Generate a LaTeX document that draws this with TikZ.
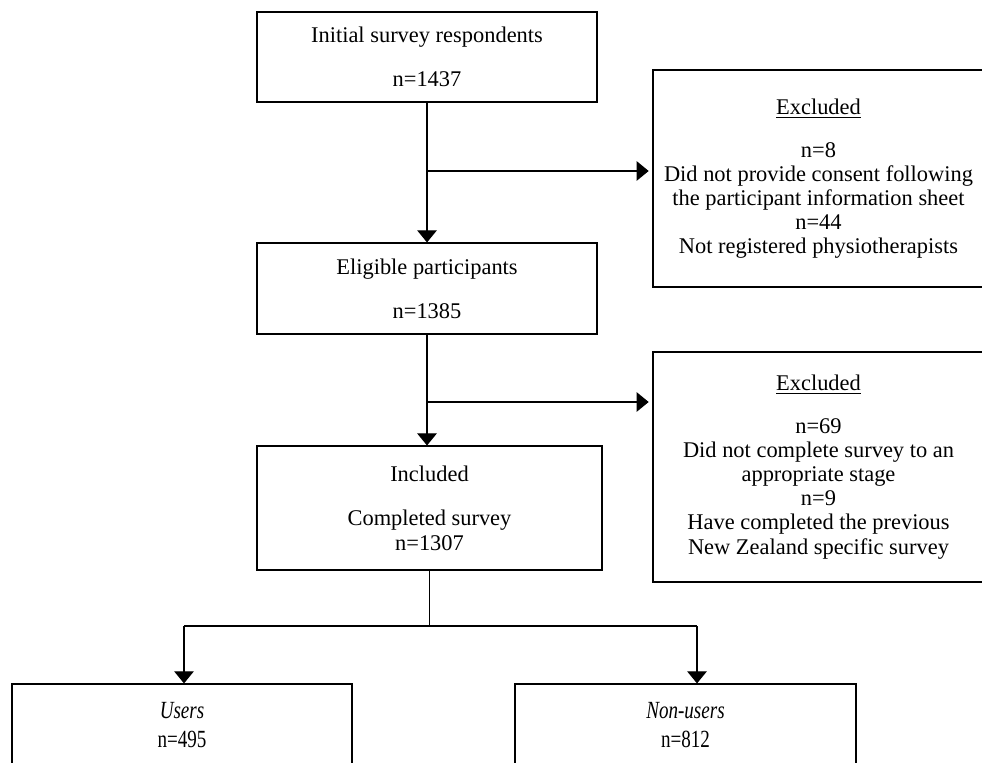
\documentclass[tikz,border=0pt]{standalone}
\usepackage{fontspec}
\setmainfont{Liberation Serif}
\usetikzlibrary{arrows.meta}
\tikzset{flowbox/.style={draw, line width=0.6pt, align=center, inner sep=0pt, font=\fontsize{12}{12.9}\selectfont}}
\tikzset{flowarr/.style={line width=0.6pt, -{Triangle[width=10.5pt,length=6.5pt]}}}
\tikzset{flowline/.style={line width=0.6pt}}
\newcommand{\narrow}[1]{\scalebox{0.85}[1.1]{#1}}

\begin{document}
\begin{tikzpicture}[x=0.535pt, y=-0.535pt]
\useasboundingbox (0,0) rectangle (982,763);

\node[flowbox, minimum width=181.9pt, minimum height=48.2pt] (init) at (427,57) {Initial survey respondents\\[10.6pt] n=1437};
\node[flowbox, minimum width=181.9pt, minimum height=48.7pt] (elig) at (427,288.5) {Eligible participants\\[10.6pt] n=1385};
\node[flowbox, minimum width=184.6pt, minimum height=66.3pt] (incl) at (429.5,508) {Included\\[11pt] Completed survey\\ n=1307};

\node[flowbox, minimum width=177.1pt, minimum height=116.1pt] (excl1) at (818.5,178.5) {\underline{Excluded}\\[10pt] n=8\\ Did not provide consent following\\ the participant information sheet\\ n=44\\ Not registered physiotherapists};
\node[flowbox, minimum width=177.1pt, minimum height=123pt] (excl2) at (818.5,467) {\underline{Excluded}\\[10pt] n=69\\ Did not complete survey to an\\ appropriate stage\\ n=9\\ Have completed the previous\\ New Zealand specific survey};

\node[flowbox, minimum width=181.9pt, minimum height=43.9pt] (users) at (182,725) {\narrow{\textit{Users}}\\[2.7pt] \narrow{n=495}};
\node[flowbox, minimum width=182.4pt, minimum height=43.9pt] (nonusers) at (685.5,725) {\narrow{\textit{Non-users}}\\[2.7pt] \narrow{n=812}};

% junctions
\coordinate (j1) at (428,171);
\coordinate (j2) at (428,402);
\coordinate (lvl) at (0,626);
\coordinate (sl) at (184,626);
\coordinate (sr) at (697,626);

\draw[flowarr] (init.south) -- (elig.north);
\draw[flowarr, shorten >=2pt] (j1) -- (j1 -| excl1.west);
\draw[flowarr] (elig.south) -- (elig.south |- incl.north);
\draw[flowarr, shorten >=2pt] (j2) -- (j2 -| excl2.west);

\draw[flowline] (incl.south) -- (incl.south |- lvl);
\draw[flowline] (sl) -- (sr);
\draw[flowarr] (sl) -- (sl |- users.north);
\draw[flowarr] (sr) -- (sr |- nonusers.north);

\end{tikzpicture}
\end{document}
